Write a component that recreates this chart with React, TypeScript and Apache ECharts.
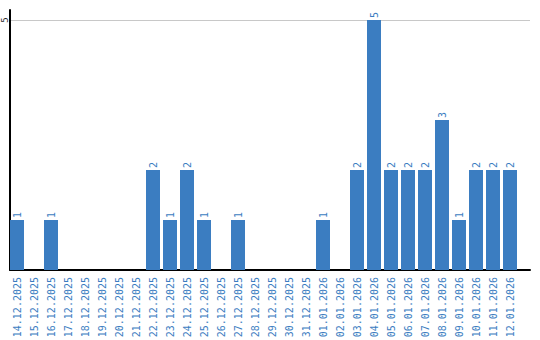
import React, { useEffect, useRef } from "react";
import * as echarts from "echarts";

const categories = [
  "14.12.2025", "15.12.2025", "16.12.2025", "17.12.2025", "18.12.2025", "19.12.2025",
  "20.12.2025", "21.12.2025", "22.12.2025", "23.12.2025", "24.12.2025", "25.12.2025",
  "26.12.2025", "27.12.2025", "28.12.2025", "29.12.2025", "30.12.2025", "31.12.2025",
  "01.01.2026", "02.01.2026", "03.01.2026", "04.01.2026", "05.01.2026", "06.01.2026",
  "07.01.2026", "08.01.2026", "09.01.2026", "10.01.2026", "11.01.2026", "12.01.2026",
];
const values = [1, 0, 1, 0, 0, 0, 0, 0, 2, 1, 2, 1, 0, 1, 0, 0, 0, 0, 1, 0, 2, 5, 2, 2, 2, 3, 1, 2, 2, 2];
const yMax = 5.2;
const yTick = 5;

const BLUE = "#3b7dc1";
const FONT = "DejaVu Sans Mono";

export default function App() {
  const ref = useRef<HTMLDivElement>(null);
  useEffect(() => {
    if (!ref.current) return;
    const chart = echarts.init(ref.current, null, { renderer: "svg" });
    chart.setOption({
      animation: false,
      grid: [
        { left: 8.5, width: 510, top: 10, bottom: 70, containLabel: false, outerBoundsMode: "none" },
        { left: 10, right: 10, top: 10, bottom: 70, containLabel: false, outerBoundsMode: "none" },
      ],
      xAxis: [
        {
          gridIndex: 0,
          type: "category",
          data: categories,
          axisLine: { show: false },
          axisTick: { show: false },
          axisLabel: {
            interval: 0,
            rotate: 90,
            margin: 7,
            fontSize: 10,
            fontFamily: FONT,
            color: BLUE,
          },
        },
        {
          gridIndex: 1,
          type: "category",
          data: [],
          axisLine: { show: true, lineStyle: { color: "#000", width: 2 } },
          axisTick: { show: false },
          axisLabel: { show: false },
        },
      ],
      yAxis: [
        {
          gridIndex: 0,
          type: "value",
          min: 0,
          max: yMax,
          axisLine: { show: false },
          axisTick: { show: false },
          axisLabel: { show: false },
          splitLine: { show: false },
        },
        {
          gridIndex: 1,
          type: "value",
          min: 0,
          max: yMax,
          interval: yTick,
          axisLine: { show: true, lineStyle: { color: "#000", width: 2 } },
          axisTick: { show: false },
          axisLabel: {
            rotate: 90,
            margin: 1,
            align: "center",
            verticalAlign: "bottom",
            fontSize: 9,
            lineHeight: 9,
            fontFamily: FONT,
            color: "#222",
            formatter: (v: number) => (v === yTick ? String(v) : ""),
          },
          splitLine: {
            show: true,
            lineStyle: { color: ["rgba(0,0,0,0)", "#c8c8c8", "rgba(0,0,0,0)"], width: 1 },
          },
        },
      ],
      series: [
        {
          type: "bar",
          xAxisIndex: 0,
          yAxisIndex: 0,
          data: values,
          barWidth: 14,
          itemStyle: { color: BLUE },
          label: {
            show: true,
            position: "top",
            rotate: 90,
            align: "left",
            verticalAlign: "middle",
            distance: 2,
            fontSize: 10,
            fontFamily: FONT,
            color: BLUE,
            formatter: (p: any) => (p.value ? String(p.value) : ""),
          },
        },
      ],
    });
    return () => chart.dispose();
  }, []);
  return <div ref={ref} style={{ width: 540, height: 340, position: "absolute", left: 0, top: 0 }} />;
}
